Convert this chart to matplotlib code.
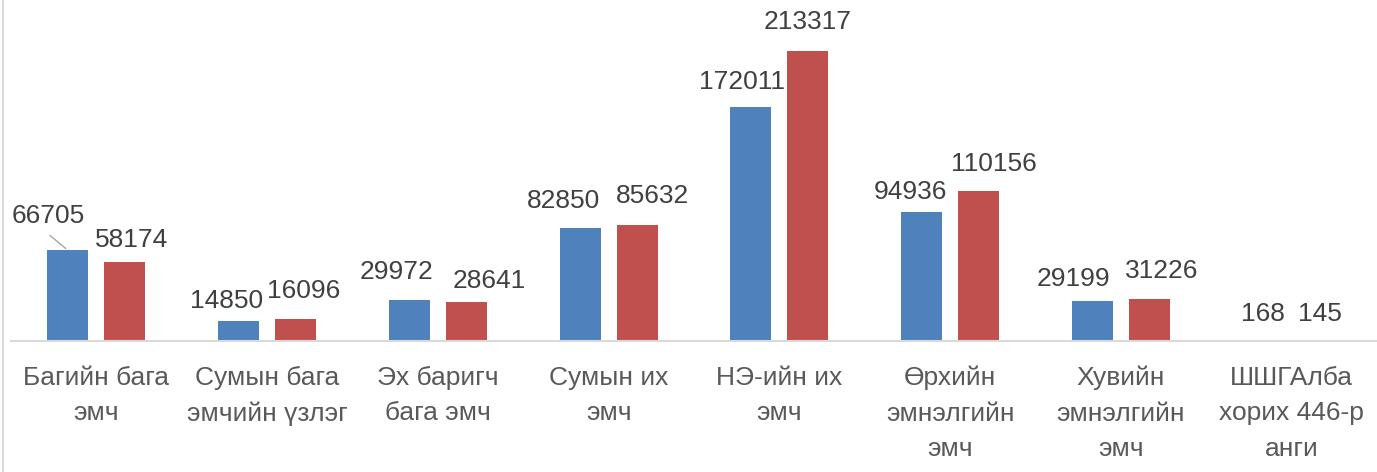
import numpy as np
from matplotlib import pyplot as plt
from matplotlib.lines import Line2D

plt.rcParams['font.family'] = ['Liberation Sans', 'DejaVu Sans']

categories = ['Багийн бага\nэмч', 'Сумын бага\nэмчийн үзлэг', 'Эх баригч\nбага эмч',
              'Сумын их\nэмч', 'НЭ-ийн их\nэмч', 'Өрхийн\nэмнэлгийн\nэмч',
              'Хувийн\nэмнэлгийн\nэмч', 'ШШГАлба\nхорих 446-р\nанги']
series_blue = [66705, 14850, 29972, 82850, 172011, 94936, 29199, 168]
series_red = [58174, 16096, 28641, 85632, 213317, 110156, 31226, 145]

# label offsets in pixels (dx, dy) from bar top centre
off_blue = [(-20, 34), (-12, 20), (-13, 28), (-17, 27), (-9, 25), (-11, 20), (-19, 22), (0, 27)]
off_red = [(7, 22), (8, 28), (23, 21), (15, 29), (0, 29), (15, 27), (12, 28), (0, 27)]

fig = plt.figure(figsize=(13.77, 4.72), dpi=100)
ax = fig.add_axes([11 / 1377, 1 - 341 / 472, 1 - 11 / 1377, 341 / 472])

x = np.arange(len(categories))
w = 0.24
d = 0.167
bb = ax.bar(x - d, series_blue, w, color='#4F81BD')
br = ax.bar(x + d, series_red, w, color='#C0504D')

ax.set_xlim(-0.5, len(categories) - 0.5)
ax.set_ylim(0, 250800)
for s in ['top', 'right', 'left']:
    ax.spines[s].set_visible(False)
ax.spines['bottom'].set_color('#D9D9D9')
ax.spines['bottom'].set_linewidth(1.5)
ax.set_yticks([])
ax.set_xticks(x)
ax.set_xticklabels(categories, fontsize=19, color='#595959', linespacing=1.6)
ax.tick_params(axis='x', length=0, pad=18)

for bars, vals, offs in [(bb, series_blue, off_blue), (br, series_red, off_red)]:
    for b, v, (dx, dy) in zip(bars, vals, offs):
        ax.annotate(str(v), (b.get_x() + b.get_width() / 2, v), xytext=(dx, dy),
                    textcoords='offset pixels', ha='center', va='center',
                    fontsize=19, color='#404040')

# leader line for the first label
ax.annotate('', (bb[0].get_x() + bb[0].get_width() / 2, series_blue[0]), xytext=(-18, 15),
            textcoords='offset pixels',
            arrowprops=dict(arrowstyle='-', color='#A6A6A6', lw=1, shrinkA=0, shrinkB=2))

fig.add_artist(Line2D([3 / 1377, 3 / 1377], [0, 1], color='#D9D9D9', lw=1.5))

fig.savefig('out.png', dpi=100)
